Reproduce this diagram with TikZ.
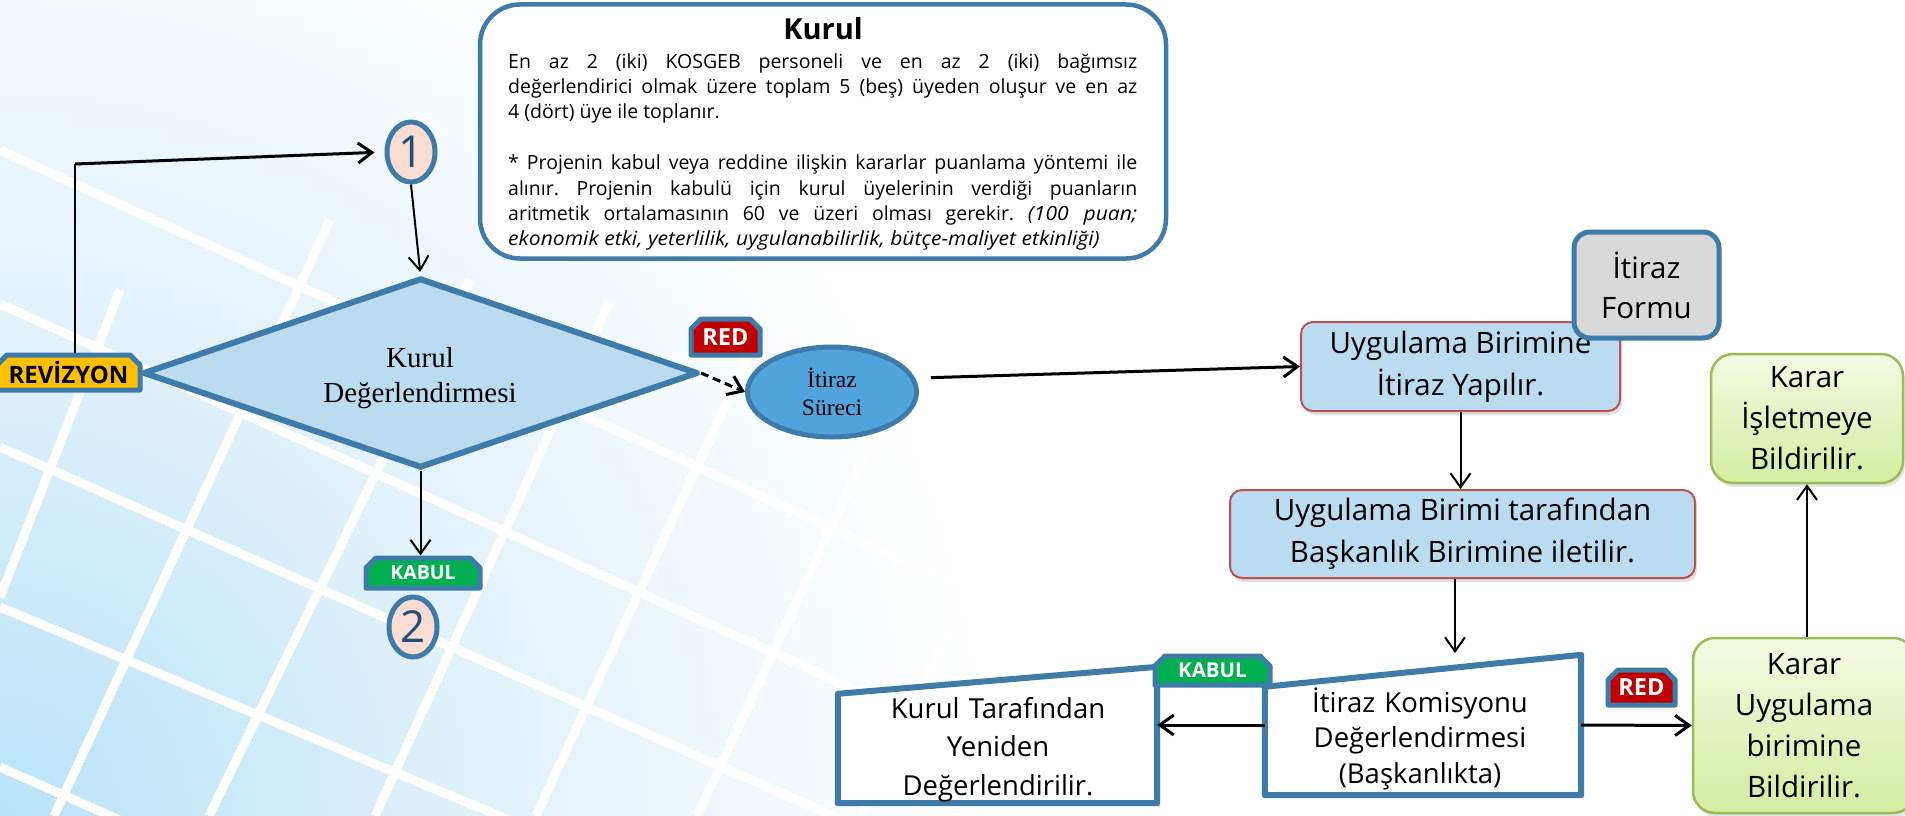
\documentclass[tikz,border=0pt]{standalone}
\usepackage{fontspec}
\setmainfont{Open Sans}
\newfontfamily\tnr{Liberation Serif}
\usetikzlibrary{arrows.meta,shapes.misc,shapes.geometric,shadows}
\definecolor{bord}{HTML}{3E7BA8}
\definecolor{lblue}{HTML}{BBDCF0}
\definecolor{mblue}{HTML}{52A5DC}
\definecolor{peach}{HTML}{F9DDD3}
\definecolor{dblue}{HTML}{1F4E79}
\definecolor{redbord}{HTML}{C0504D}
\definecolor{gbord}{HTML}{9BBB59}
\definecolor{gtop}{HTML}{F3FAE2}
\definecolor{gbot}{HTML}{D3EDA2}
\definecolor{tagred}{HTML}{C00000}
\definecolor{taggreen}{HTML}{00B050}
\definecolor{tagyel}{HTML}{FFC000}
\definecolor{formgray}{HTML}{D9D9D9}
\definecolor{bgA}{HTML}{B8E3F8}
\definecolor{bgB}{HTML}{DDF0FA}
\pgfdeclareradialshading{bgshade}{\pgfpoint{0bp}{0bp}}{color(0bp)=(bgA); color(11bp)=(bgB); color(25bp)=(white); color(50bp)=(white)}
\begin{document}
\begin{tikzpicture}[x=1pt,y=-1pt,line join=round,
  arr/.style={-{Straight Barb[length=14pt,width=20pt]}, line width=2pt},
  bgline/.style={white, line width=9pt},
  tagbox/.style={chamfered rectangle, chamfered rectangle corners={north west,north east},
    chamfered rectangle xsep=5pt, chamfered rectangle ysep=5pt,
    draw=bord, line width=5pt, inner sep=0pt, text=white, font=\bfseries\fontsize{20}{24}\selectfont},
  numcirc/.style={ellipse, draw=bord, line width=5pt, fill=peach, inner sep=0pt,
    minimum width=48pt, minimum height=60pt, text=dblue, font=\fontsize{44}{50}\selectfont},
  bluebox/.style={rectangle, rounded corners=12pt, draw=redbord, line width=2pt, fill=lblue,
    inner sep=0pt, align=center, font=\fontsize{29.5}{42}\selectfont,
    drop shadow={shadow xshift=2pt, shadow yshift=-4pt, opacity=0.25}},
  greenbox/.style={rectangle, rounded corners=22pt, draw=gbord, line width=2.5pt,
    top color=gtop, bottom color=gbot, inner sep=0pt, align=center,
    font=\fontsize{29.5}{41}\selectfont,
    drop shadow={shadow xshift=2pt, shadow yshift=-4pt, opacity=0.2}},
  manual/.style={draw=bord, line width=6pt, fill=white},
  ghost/.style={rectangle, inner sep=0pt}
]
\clip (0,0) rectangle (1905,816);
% background
\fill[white] (0,0) rectangle (1905,816);
\shade[shading=bgshade] (0,816) circle (1000);
\draw[bgline] (0,150) -- (1100,650);
\draw[bgline] (0,304) -- (1100,800);
\draw[bgline] (0,447) -- (1000,890);
\draw[bgline] (0,607) -- (700,900);
\draw[bgline] (0,767) -- (300,900);
\draw[bgline] (0,597) -- (120,290);
\draw[bgline] (54,816) -- (330,220);
\draw[bgline] (209,816) -- (470,280);
\draw[bgline] (375,816) -- (610,300);
\draw[bgline] (536,816) -- (760,330);
\draw[bgline] (697,816) -- (900,380);
\draw[bgline] (860,816) -- (1050,420);

% Kurul info box
\node[rectangle, draw=bord, line width=4.5pt, fill=white, rounded corners=40pt,
  minimum width=686pt, minimum height=254pt, inner sep=0pt] (kurulbox) at (823,131.5) {};
\node[anchor=base, inner sep=0pt, font=\bfseries\fontsize{29}{35}\selectfont] (kurultitle) at (823,40) {Kurul};
\node[anchor=base west, inner sep=0pt] (kurulbody) at (508,68) {\parbox[t]{629pt}{\fontsize{19.5}{25.4}\selectfont\frenchspacing
En az 2 (iki) KOSGEB personeli ve en az 2 (iki) bağımsız\linebreak
değerlendirici olmak üzere toplam 5 (beş) üyeden oluşur ve en az\linebreak
4 (dört) üye ile toplanır.\\[25.4pt]
* Projenin kabul veya reddine ilişkin kararlar puanlama yöntemi ile\linebreak
alınır. Projenin kabulü için kurul üyelerinin verdiği puanların\linebreak
aritmetik ortalamasının 60 ve üzeri olması gerekir. \textit{\addfontfeature{FakeStretch=1.08}(100 puan;}\linebreak
\textit{\addfontfeature{FakeStretch=1.08}ekonomik etki, yeterlilik, uygulanabilirlik, bütçe-maliyet etkinliği)}}};

% left part
\node[numcirc] (c1) at (411,152) {1};
\node[diamond, draw=bord, line width=6pt, fill=lblue, minimum width=555pt, minimum height=190pt,
  inner sep=0pt] (kd) at (420.5,373) {};
\node[anchor=base, text width=320pt, align=center, inner sep=0pt,
  font=\tnr\fontsize{29}{35}\selectfont] (kdtext) at (420,367) {Kurul\\Değerlendirmesi};
\node[tagbox, fill=tagyel, text=black, minimum width=143pt, minimum height=35pt,
  font=\bfseries\fontsize{24}{28}\selectfont] (rev) at (68.5,372.5) {REVİZYON};
\node[tagbox, fill=tagred, minimum width=69pt, minimum height=36pt,
  font=\bfseries\fontsize{23.5}{28}\selectfont] (red1) at (725.5,337) {RED};
\node[tagbox, fill=taggreen, minimum width=114pt, minimum height=30pt,
  font=\bfseries\fontsize{19.5}{24}\selectfont] (kabul1) at (423,573) {KABUL};
\node[numcirc] (c2) at (413,627) {2};
\node[ellipse, draw=bord, line width=5pt, fill=mblue, minimum width=169pt, minimum height=90pt,
  inner sep=0pt, align=center, font=\tnr\fontsize{23.5}{28}\selectfont] (ell) at (832,392) {İtiraz\\Süreci};

\coordinate (bend) at (75,164);
\draw[line width=2pt] (rev.north -| bend) -- (bend);
\draw[arr, line width=3pt, shorten >=10pt] (bend) -- (c1.west);
\draw[arr, shorten >=3pt] (c1.south) -- (kd.north);
\draw[arr, dashed, dash pattern=on 8pt off 5pt, line width=3pt] (kd.east) -- (ell.west);
\draw[arr] (kd.south) -- (kd.south |- kabul1.north);

% right part
\node[bluebox] (uyg1) [minimum width=319pt, minimum height=89pt] at (1460.5,366.5) {Uygulama Birimine\\İtiraz Yapılır.};
\node[rectangle, rounded corners=16pt, draw=bord, line width=5pt, fill=formgray, inner sep=0pt,
  minimum width=145pt, minimum height=106pt, align=center, font=\fontsize{29.5}{40}\selectfont]
  (form) at (1646.5,285) {İtiraz\\Formu};
\node[bluebox] (uyg2) [minimum width=465pt, minimum height=88pt] at (1462.5,534) {Uygulama Birimi tarafından\\Başkanlık Birimine iletilir.};
\node[greenbox] (kar1) [minimum width=192pt, minimum height=129pt] at (1807,418.5) {Karar\\İşletmeye\\Bildirilir.};
\node[greenbox] (kar2) [minimum width=222pt, minimum height=175pt] at (1804,725.5) {Karar\\Uygulama\\birimine\\Bildirilir.};

\node[ghost, minimum width=319pt, minimum height=136pt] (kt) at (997.5,735) {};
\node[ghost, minimum width=316pt, minimum height=140pt] (kom) at (1423,725) {};
\draw[manual] (kt.south west) -- (kt.south east) -- (kt.north east) -- ([yshift=-27pt]kt.north west) -- cycle;
\draw[manual] (kom.south west) -- (kom.south east) -- (kom.north east) -- ([yshift=-32pt]kom.north west) -- cycle;
\node[anchor=base, text width=300pt, align=center, inner sep=0pt,
  font=\fontsize{27.5}{38.5}\selectfont] (kttext) at (998,718) {Kurul Tarafından\\Yeniden\\Değerlendirilir.};
\node[anchor=base, text width=300pt, align=center, inner sep=0pt,
  font=\fontsize{27.5}{35.5}\selectfont] (komtext) at (1420,712) {İtiraz Komisyonu\\Değerlendirmesi\\(Başkanlıkta)};
\node[tagbox, fill=taggreen, minimum width=115pt, minimum height=29pt,
  font=\bfseries\fontsize{20.5}{24}\selectfont] (kabul2) at (1212.5,670.5) {KABUL};
\node[tagbox, fill=tagred, minimum width=67pt, minimum height=35pt,
  font=\bfseries\fontsize{23.5}{28}\selectfont] (red2) at (1641.5,687.5) {RED};

\coordinate (komin) at (1455,653);
\draw[arr, line width=3pt, shorten <=12pt] ([yshift=14pt]ell.east) -- (uyg1.west);
\draw[arr] (uyg1.south) -- (uyg1.south |- uyg2.north);
\draw[arr] (uyg2.south -| komin) -- (komin);
\draw[arr, line width=3pt] (kom.west) -- (kom.west -| kt.east);
\draw[arr, line width=3pt] (kom.east) -- (kar2.west);
\draw[arr] (kar2.north -| kar1.south) -- (kar1.south);
\end{tikzpicture}
\end{document}
